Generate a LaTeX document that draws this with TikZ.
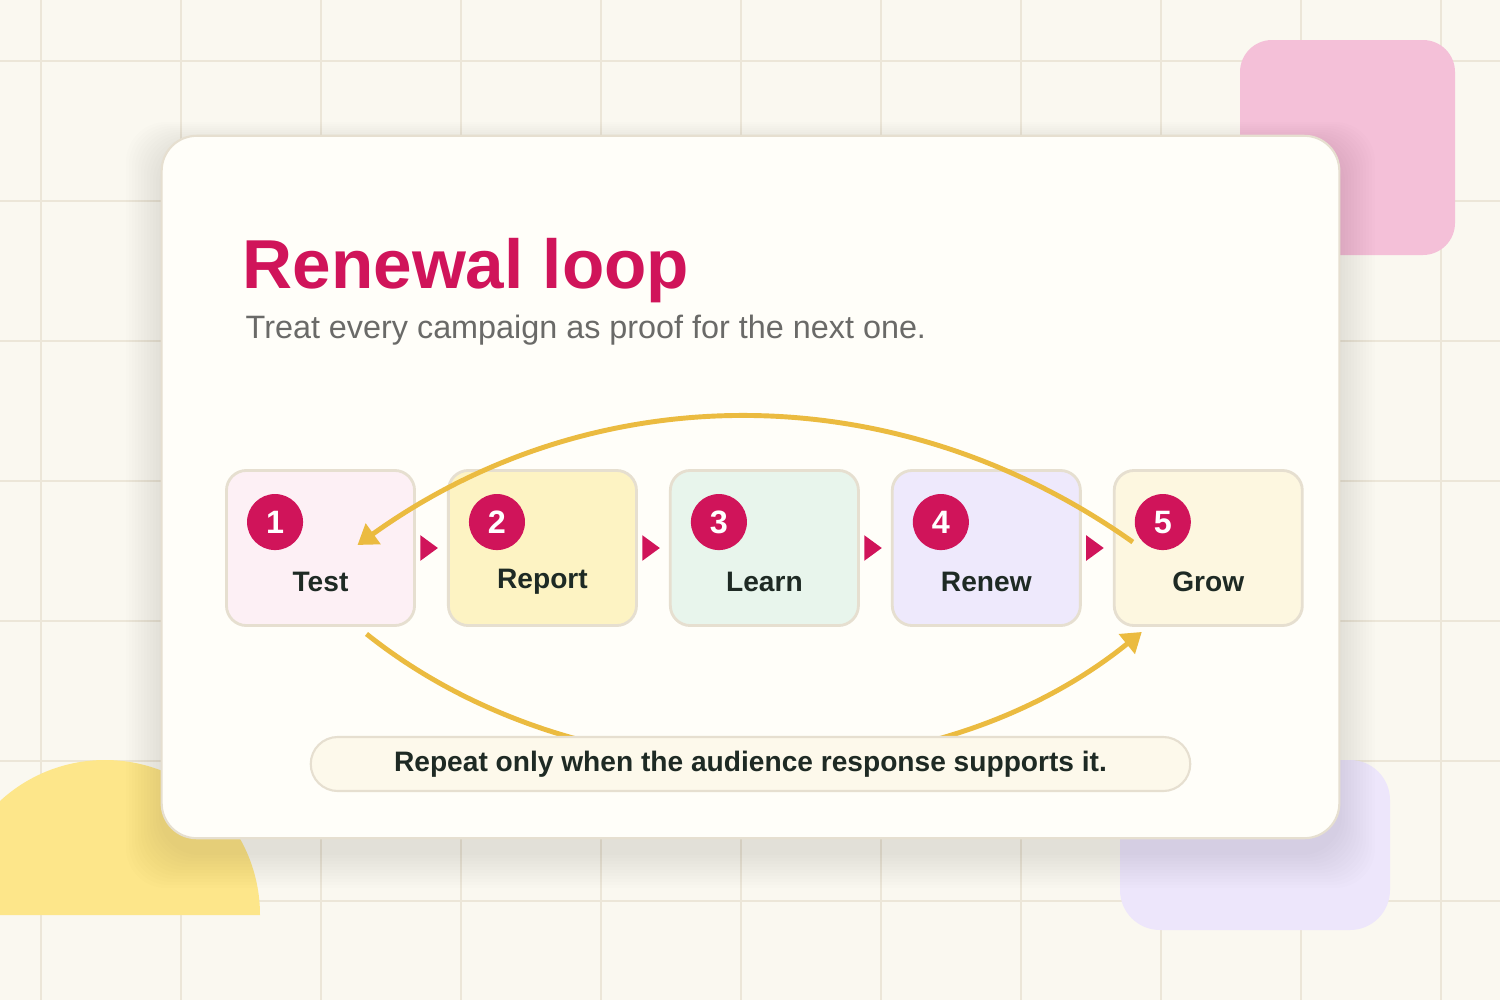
\documentclass[tikz,border=0pt]{standalone}
\usepackage{fontspec}
\setmainfont{Liberation Sans}
\usetikzlibrary{positioning, arrows.meta}

\definecolor{paper}{HTML}{FAF8F0}
\definecolor{gridclr}{HTML}{ECE6D8}
\definecolor{crimson}{HTML}{D0145A}
\definecolor{gold}{HTML}{EBBB40}
\definecolor{ink}{HTML}{1E2A24}
\definecolor{subgray}{HTML}{6A6A68}
\definecolor{boxedge}{HTML}{E6DFD0}
\definecolor{cardfill}{HTML}{FFFEF9}
\definecolor{pillfill}{HTML}{FDF9EB}
\definecolor{pinkdeco}{HTML}{F4C0D8}
\definecolor{lavdeco}{HTML}{EDE6FB}
\definecolor{yellowdeco}{HTML}{FDE68A}
\definecolor{fillone}{HTML}{FDF0F5}
\definecolor{filltwo}{HTML}{FDF3C3}
\definecolor{fillthree}{HTML}{E8F5EC}
\definecolor{fillfour}{HTML}{EEE9FC}
\definecolor{fillfive}{HTML}{FDF7E0}

\begin{document}
\begin{tikzpicture}[
    x=0.01cm, y=-0.01cm,
    stepbox/.style={draw=boxedge, line width=0.8pt, rounded corners=0.2cm, minimum width=1.88cm, minimum height=1.55cm},
    num/.style={circle, fill=crimson, text=white, minimum size=0.56cm, inner sep=0pt, font=\fontsize{9.2}{10}\selectfont\bfseries},
    lbl/.style={text=ink, inner sep=1pt, font=\fontsize{8}{9}\selectfont\bfseries},
    flow/.style={-{Triangle[length=5pt,width=7pt]}, line width=1pt, draw=crimson, shorten <=0.07cm, shorten >=0.09cm},
    goldloop/.style={-{Triangle[length=5.5pt,width=7pt]}, line width=1.4pt, draw=gold},
    gridline/.style={draw=gridclr, line width=0.6pt}
  ]
    \useasboundingbox (0,0) rectangle (1500,1000);
    \fill[paper] (0,0) rectangle (1500,1000);
    \foreach \x in {41,181,...,1441} \draw[gridline] (\x,0) -- (\x,1000);
    \foreach \y in {61,201,...,901} \draw[gridline] (0,\y) -- (1500,\y);

    % decorations behind the card
    \fill[pinkdeco, rounded corners=0.32cm] (1240,40) rectangle (1455,255);
    \fill[lavdeco, rounded corners=0.4cm] (1120,760) rectangle (1390,930);
    \fill[yellowdeco] (-50,915) arc[start angle=180, end angle=360, radius=155] -- cycle;

    % card with soft shadow
    \foreach \s in {1,...,12}
      \fill[black, opacity=0.007, rounded corners=0.4cm] (162-3*\s,146-2*\s) rectangle (1339+3*\s,852+3*\s);
    \node[draw=boxedge, fill=cardfill, line width=0.6pt, rounded corners=0.35cm, minimum width=11.77cm, minimum height=7.02cm] (card) at (750.5,487) {};

    \node[anchor=base west, inner sep=0pt, text=crimson, font=\fontsize{19.7}{22}\selectfont\bfseries] (title) at (242,288) {Renewal loop};
    \node[anchor=base west, inner sep=0pt, text=subgray, font=\fontsize{9.2}{11}\selectfont] (subtitle) at (245,338) {Treat every campaign as proof for the next one.};

    % ==========================================
    \node[stepbox, fill=fillone] (b1) at (320.5,548) {};
    \node[stepbox, fill=filltwo, right=0.31cm of b1] (b2) {};
    \node[stepbox, fill=fillthree, right=0.31cm of b2] (b3) {};
    \node[stepbox, fill=fillfour, right=0.31cm of b3] (b4) {};
    \node[stepbox, fill=fillfive, right=0.31cm of b4] (b5) {};
    \draw[flow] (b1.east) -- (b2.west);
    \draw[flow] (b2.east) -- (b3.west);
    \draw[flow] (b3.east) -- (b4.west);
    \draw[flow] (b4.east) -- (b5.west);

    \node[num] (n1) at ([shift={(50,53)}]b1.north west) {1};
    \node[num] (n2) at ([shift={(50,53)}]b2.north west) {2};
    \node[num] (n3) at ([shift={(50,53)}]b3.north west) {3};
    \node[num] (n4) at ([shift={(50,53)}]b4.north west) {4};
    \node[num] (n5) at ([shift={(50,53)}]b5.north west) {5};
    \node[lbl] (t1) at ([shift={(0,34)}]b1.center) {Test};
    \node[lbl] (t2) at ([shift={(0,34)}]b2.center) {Report};
    \node[lbl] (t3) at ([shift={(0,34)}]b3.center) {Learn};
    \node[lbl] (t4) at ([shift={(0,34)}]b4.center) {Renew};
    \node[lbl] (t5) at ([shift={(0,34)}]b5.center) {Grow};

    % ==========================================
    \coordinate (topstart) at ([shift={(-30,20)}]n5.center);
    \coordinate (topend) at ([shift={(37,-3)}]b1.center);
    \draw[goldloop] (topstart) .. controls +(-237,-168) and +(237,-170) .. (topend);
    \coordinate (botstart) at ([shift={(46,7)}]b1.south);
    \coordinate (botend) at ([shift={(29,5)}]b5.south west);
    \draw[goldloop] (botstart) .. controls +(214,171) and +(-214,173) .. (botend);

    \node[draw=boxedge, fill=pillfill, line width=0.6pt, rounded corners=0.27cm, minimum width=8.79cm, minimum height=0.54cm, text=ink, font=\fontsize{8}{9}\selectfont\bfseries] (note) at (750.5,764) {Repeat only when the audience response supports it.};
  \end{tikzpicture}
\end{document}
